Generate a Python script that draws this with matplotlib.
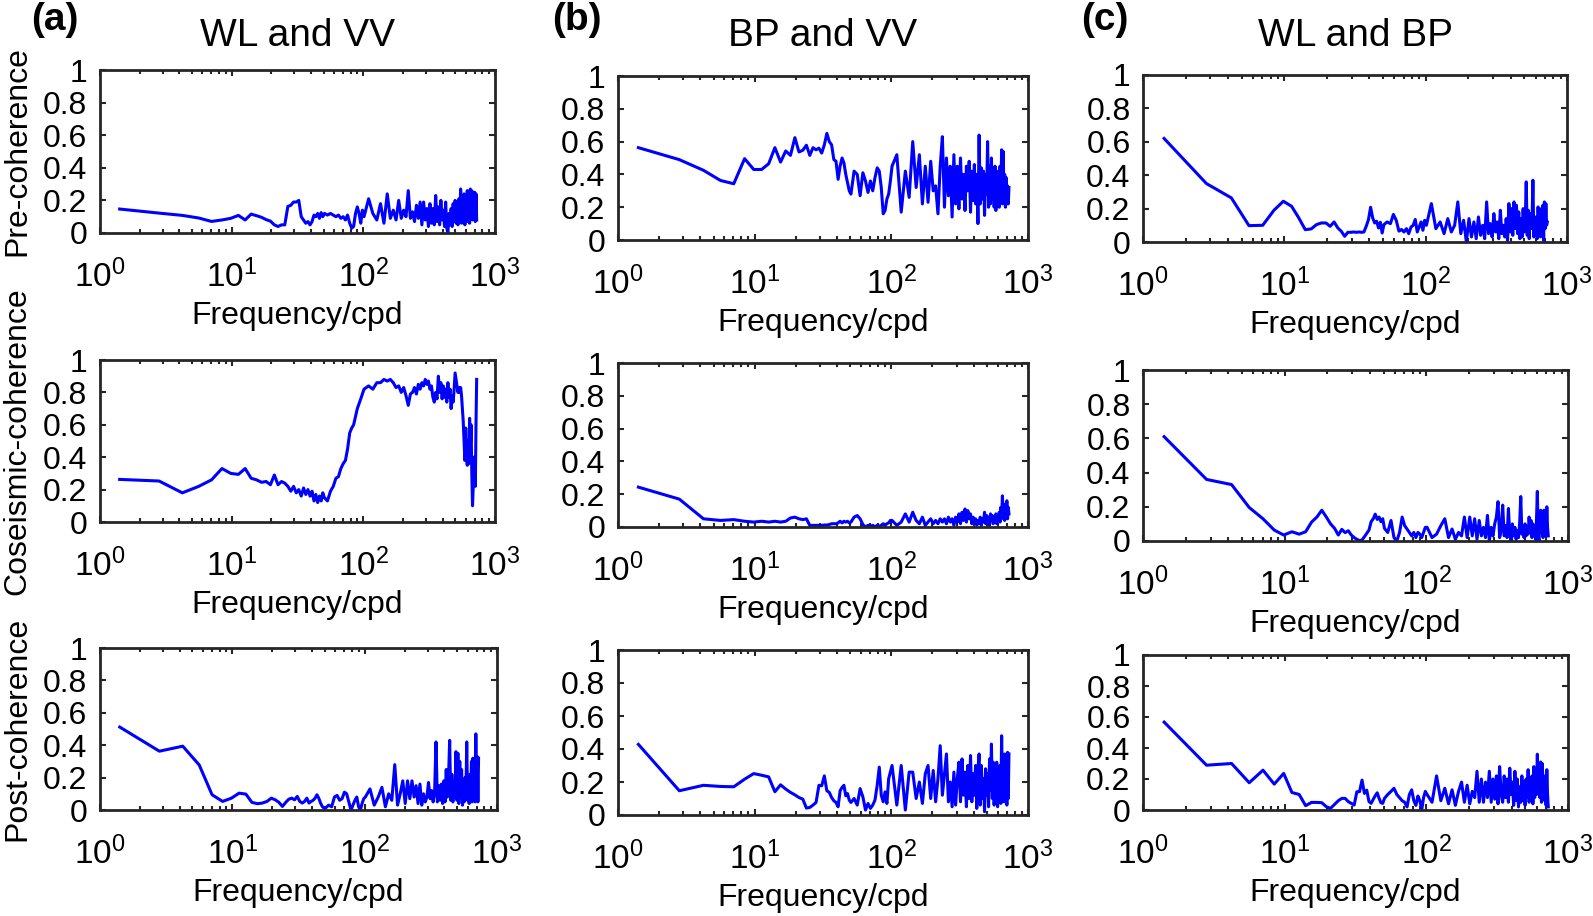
import matplotlib
matplotlib.use("Agg")
import matplotlib.pyplot as plt
from matplotlib.ticker import FixedLocator, FuncFormatter, LogLocator

plt.rcParams["font.family"] = ["Liberation Sans", "DejaVu Sans"]
plt.rcParams["mathtext.fontset"] = "custom"
plt.rcParams["mathtext.rm"] = "Liberation Sans"
plt.rcParams["mathtext.it"] = "Liberation Sans:italic"
plt.rcParams["mathtext.bf"] = "Liberation Sans:bold"

# frequency grid (cpd), shared by every panel
FREQ = [
    1.41, 2.81, 4.22, 5.62, 7.03, 8.44, 9.84, 11.25, 12.66, 14.06,
    15.47, 16.88, 18.28, 19.69, 21.09, 22.50, 23.91, 25.31, 26.72, 28.13,
    29.53, 30.94, 32.34, 33.75, 35.16, 36.56, 37.97, 39.38, 40.78, 42.19,
    43.59, 45.00, 46.41, 47.81, 49.22, 50.63,
    53.4, 56.3, 59.1, 61.9, 64.7, 67.5, 70.3, 73.1, 75.9, 78.8,
    81.6, 84.4, 87.2, 90.0, 92.8, 95.6, 98.4,
    101.2, 109.7, 118.1, 126.6, 135.0, 143.4, 151.9, 160.3, 168.8, 177.2,
    185.6, 194.1, 202.5, 210.9, 219.4, 227.8, 236.3, 244.7, 253.1, 261.6,
    270.0, 278.4, 286.9, 295.3, 303.8, 312.2, 320.6, 329.1, 337.5, 345.9,
    354.4, 362.8, 371.3, 379.7, 388.1, 396.6, 405.0, 413.4, 421.9, 430.3,
    438.8, 447.2, 455.6, 464.1, 472.5, 480.9, 489.4, 497.8, 506.3, 514.7,
    523.1, 531.6, 540.0, 548.4, 556.9, 565.3, 573.8, 582.2, 590.6, 599.1,
    607.5, 615.9, 624.4, 632.8, 641.3, 649.7, 658.1, 666.6, 675.0, 683.4,
    691.9, 700.3, 708.8, 717.2, 725.6,
]

# (a) WL and VV
pre_wl_vv = [
    0.147, 0.122, 0.108, 0.092, 0.071, 0.080, 0.090, 0.108, 0.080, 0.116,
    0.106, 0.096, 0.082, 0.073, 0.050, 0.040, 0.050, 0.050, 0.163, 0.170,
    0.190, 0.190, 0.200, 0.100, 0.080, 0.060, 0.070, 0.050, 0.070, 0.110,
    0.100, 0.120, 0.090, 0.125, 0.100, 0.120,
    0.110, 0.120, 0.110, 0.100, 0.110, 0.090, 0.100, 0.080, 0.110, 0.060,
    0.030, 0.040, 0.120, 0.160, 0.120, 0.060, 0.140,
    0.10, 0.21, 0.12, 0.08, 0.18, 0.06, 0.24, 0.09, 0.14, 0.08,
    0.20, 0.09, 0.14, 0.10, 0.26, 0.09, 0.13, 0.07, 0.17, 0.09,
    0.19, 0.05, 0.19, 0.08, 0.15, 0.04, 0.18, 0.06, 0.15, 0.05,
    0.23, 0.07, 0.16, 0.05, 0.20, 0.08, 0.14, 0.04, 0.19, 0.03,
    0.00, 0.12, 0.05, 0.15, 0.04, 0.18, 0.07, 0.20, 0.06, 0.18,
    0.05, 0.21, 0.08, 0.27, 0.06, 0.16, 0.08, 0.24, 0.05, 0.22,
    0.10, 0.26, 0.07, 0.20, 0.06, 0.27, 0.10, 0.26, 0.08, 0.24,
    0.12, 0.25, 0.07, 0.24, 0.08,
]
co_wl_vv = [
    0.263, 0.253, 0.180, 0.220, 0.260, 0.330, 0.300, 0.294, 0.330, 0.270,
    0.260, 0.245, 0.250, 0.230, 0.290, 0.230, 0.250, 0.240, 0.220, 0.190,
    0.220, 0.180, 0.200, 0.160, 0.210, 0.170, 0.200, 0.160, 0.190, 0.130,
    0.170, 0.120, 0.160, 0.130, 0.180, 0.150,
    0.13, 0.19, 0.22, 0.27, 0.28, 0.33, 0.36, 0.38, 0.45, 0.55,
    0.58, 0.60, 0.65, 0.70, 0.73, 0.76, 0.79,
    0.82, 0.84, 0.82, 0.86, 0.86, 0.88, 0.87, 0.88, 0.86, 0.83,
    0.84, 0.80, 0.83, 0.78, 0.72, 0.79, 0.80, 0.83, 0.79, 0.85,
    0.82, 0.86, 0.84, 0.88, 0.85, 0.87, 0.82, 0.84, 0.77, 0.74,
    0.80, 0.76, 0.90, 0.80, 0.86, 0.76, 0.84, 0.77, 0.82, 0.74,
    0.86, 0.77, 0.82, 0.70, 0.78, 0.74, 0.82, 0.92, 0.88, 0.84,
    0.80, 0.83, 0.80, 0.83, 0.78, 0.70, 0.62, 0.50, 0.38, 0.58,
    0.40, 0.35, 0.50, 0.36, 0.64, 0.45, 0.60, 0.30, 0.10, 0.22,
    0.40, 0.30, 0.22, 0.60, 0.88,
]
post_wl_vv = [
    0.512, 0.363, 0.394, 0.278, 0.094, 0.053, 0.073, 0.104, 0.098, 0.047,
    0.039, 0.043, 0.053, 0.073, 0.063, 0.047, 0.022, 0.047, 0.067, 0.073,
    0.063, 0.084, 0.053, 0.043, 0.053, 0.073, 0.043, 0.053, 0.060, 0.073,
    0.094, 0.073, 0.043, 0.022, 0.012, 0.012,
    0.03, 0.02, 0.08, 0.09, 0.06, 0.07, 0.11, 0.10, 0.05, 0.00,
    0.03, 0.06, 0.08, 0.02, 0.00, 0.04, 0.07,
    0.08, 0.13, 0.03, 0.08, 0.14, 0.02, 0.10, 0.06, 0.28, 0.03,
    0.10, 0.18, 0.04, 0.18, 0.07, 0.18, 0.08, 0.15, 0.04, 0.16,
    0.03, 0.10, 0.05, 0.08, 0.17, 0.07, 0.12, 0.05, 0.10, 0.42,
    0.05, 0.15, 0.06, 0.16, 0.04, 0.18, 0.05, 0.25, 0.08, 0.20,
    0.43, 0.06, 0.22, 0.05, 0.18, 0.08, 0.36, 0.06, 0.35, 0.04,
    0.30, 0.08, 0.25, 0.03, 0.12, 0.05, 0.20, 0.09, 0.42, 0.06,
    0.18, 0.04, 0.22, 0.07, 0.30, 0.05, 0.32, 0.08, 0.20, 0.05,
    0.47, 0.10, 0.33, 0.05, 0.32,
]

# (b) BP and VV
pre_bp_vv = [
    0.563, 0.490, 0.425, 0.363, 0.343, 0.496, 0.430, 0.430, 0.465, 0.563,
    0.475, 0.543, 0.516, 0.624, 0.537, 0.547, 0.578, 0.516, 0.563, 0.550,
    0.560, 0.530, 0.580, 0.650, 0.600, 0.580, 0.490, 0.480, 0.370, 0.450,
    0.500, 0.470, 0.400, 0.350, 0.300, 0.280,
    0.42, 0.40, 0.27, 0.41, 0.36, 0.29, 0.36, 0.30, 0.38, 0.44,
    0.42, 0.32, 0.16, 0.18, 0.25, 0.28, 0.36,
    0.45, 0.52, 0.17, 0.42, 0.26, 0.60, 0.32, 0.52, 0.22, 0.45,
    0.23, 0.48, 0.30, 0.33, 0.16, 0.45, 0.63, 0.20, 0.50, 0.27,
    0.45, 0.14, 0.52, 0.22, 0.45, 0.19, 0.50, 0.25, 0.40, 0.18,
    0.45, 0.30, 0.48, 0.17, 0.42, 0.24, 0.46, 0.22, 0.40, 0.10,
    0.64, 0.22, 0.44, 0.25, 0.42, 0.15, 0.40, 0.28, 0.60, 0.20,
    0.45, 0.22, 0.50, 0.25, 0.40, 0.20, 0.45, 0.18, 0.42, 0.25,
    0.38, 0.20, 0.45, 0.24, 0.55, 0.22, 0.54, 0.25, 0.40, 0.20,
    0.38, 0.22, 0.33, 0.22, 0.32,
]
co_bp_vv = [
    0.243, 0.170, 0.050, 0.040, 0.045, 0.035, 0.030, 0.035, 0.030, 0.035,
    0.030, 0.035, 0.055, 0.060, 0.050, 0.045, 0.050, 0.010, 0.010, 0.010,
    0.010, 0.010, 0.012, 0.012, 0.015, 0.020, 0.020, 0.020, 0.025, 0.035,
    0.025, 0.035, 0.030, 0.035, 0.025, 0.030,
    0.060, 0.070, 0.050, 0.015, 0.000, 0.010, 0.005, 0.010, 0.000, 0.010,
    0.005, 0.010, 0.020, 0.010, 0.020, 0.025, 0.040,
    0.04, 0.01, 0.03, 0.08, 0.03, 0.09, 0.04, 0.02, 0.06, 0.01,
    0.03, 0.05, 0.02, 0.04, 0.02, 0.05, 0.03, 0.05, 0.02, 0.06,
    0.03, 0.05, 0.01, 0.06, 0.03, 0.08, 0.02, 0.09, 0.04, 0.11,
    0.03, 0.10, 0.05, 0.08, 0.02, 0.06, 0.03, 0.05, 0.01, 0.04,
    0.02, 0.06, 0.01, 0.05, 0.03, 0.09, 0.02, 0.07, 0.03, 0.06,
    0.01, 0.08, 0.04, 0.07, 0.02, 0.05, 0.03, 0.08, 0.02, 0.06,
    0.04, 0.09, 0.03, 0.12, 0.05, 0.19, 0.06, 0.11, 0.04, 0.14,
    0.07, 0.16, 0.05, 0.12, 0.08,
]
post_bp_vv = [
    0.428, 0.147, 0.180, 0.173, 0.171, 0.217, 0.251, 0.241, 0.231, 0.141,
    0.183, 0.157, 0.137, 0.122, 0.106, 0.096, 0.042, 0.046, 0.060, 0.076,
    0.180, 0.177, 0.237, 0.147, 0.137, 0.106, 0.086, 0.076, 0.050, 0.147,
    0.167, 0.180, 0.116, 0.130, 0.090, 0.076,
    0.10, 0.06, 0.16, 0.11, 0.03, 0.07, 0.04, 0.06, 0.09, 0.18,
    0.29, 0.12, 0.08, 0.14, 0.07, 0.22, 0.26,
    0.30, 0.06, 0.30, 0.03, 0.26, 0.26, 0.10, 0.20, 0.07, 0.25,
    0.30, 0.10, 0.27, 0.08, 0.22, 0.42, 0.12, 0.25, 0.37, 0.08,
    0.20, 0.05, 0.26, 0.06, 0.22, 0.32, 0.08, 0.34, 0.12, 0.26,
    0.05, 0.30, 0.10, 0.36, 0.08, 0.25, 0.12, 0.30, 0.04, 0.28,
    0.37, 0.06, 0.30, 0.10, 0.22, 0.02, 0.28, 0.12, 0.25, 0.05,
    0.34, 0.15, 0.43, 0.10, 0.32, 0.06, 0.28, 0.12, 0.32, 0.05,
    0.25, 0.10, 0.30, 0.07, 0.48, 0.15, 0.36, 0.08, 0.37, 0.12,
    0.30, 0.06, 0.38, 0.10, 0.37,
]

# (c) WL and BP
pre_wl_bp = [
    0.620, 0.350, 0.264, 0.098, 0.100, 0.190, 0.244, 0.214, 0.144, 0.074,
    0.078, 0.104, 0.114, 0.114, 0.094, 0.120, 0.084, 0.064, 0.034, 0.058,
    0.058, 0.060, 0.058, 0.060, 0.058, 0.060, 0.094, 0.134, 0.208, 0.144,
    0.114, 0.124, 0.084, 0.118, 0.054, 0.104,
    0.120, 0.110, 0.165, 0.130, 0.065, 0.075, 0.060, 0.080, 0.050, 0.090,
    0.100, 0.135, 0.060, 0.090, 0.120, 0.070, 0.130,
    0.10, 0.23, 0.08, 0.12, 0.05, 0.14, 0.06, 0.10, 0.24, 0.05,
    0.13, 0.00, 0.14, 0.03, 0.12, 0.02, 0.15, 0.04, 0.10, 0.02,
    0.24, 0.05, 0.11, 0.03, 0.17, 0.06, 0.12, 0.02, 0.19, 0.05,
    0.10, 0.03, 0.14, 0.01, 0.23, 0.06, 0.20, 0.04, 0.24, 0.08,
    0.22, 0.05, 0.18, 0.02, 0.14, 0.03, 0.20, 0.06, 0.12, 0.36,
    0.04, 0.19, 0.02, 0.17, 0.08, 0.12, 0.37, 0.03, 0.15, 0.05,
    0.15, 0.02, 0.21, 0.06, 0.18, 0.03, 0.20, 0.05, 0.22, 0.01,
    0.24, 0.08, 0.23, 0.10, 0.12,
]
co_wl_bp = [
    0.610, 0.360, 0.330, 0.196, 0.130, 0.064, 0.035, 0.054, 0.040, 0.054,
    0.110, 0.140, 0.180, 0.140, 0.100, 0.074, 0.035, 0.068, 0.049, 0.060,
    0.035, 0.020, 0.010, 0.002, 0.006, 0.025, 0.045, 0.064, 0.113, 0.130,
    0.157, 0.126, 0.140, 0.113, 0.130, 0.074,
    0.05, 0.12, 0.02, 0.00, 0.05, 0.14, 0.09, 0.07, 0.05, 0.03,
    0.05, 0.02, 0.05, 0.04, 0.02, 0.05, 0.08,
    0.08, 0.02, 0.04, 0.09, 0.13, 0.02, 0.07, 0.01, 0.05, 0.03,
    0.14, 0.02, 0.14, 0.03, 0.13, 0.01, 0.12, 0.03, 0.08, 0.02,
    0.15, 0.00, 0.08, 0.03, 0.10, 0.14, 0.23, 0.02, 0.06, 0.21,
    0.03, 0.09, 0.02, 0.19, 0.04, 0.00, 0.10, 0.03, 0.08, 0.01,
    0.06, 0.02, 0.10, 0.26, 0.04, 0.05, 0.02, 0.10, 0.03, 0.08,
    0.04, 0.14, 0.06, 0.12, 0.02, 0.10, 0.04, 0.08, 0.01, 0.12,
    0.29, 0.03, 0.00, 0.10, 0.18, 0.05, 0.17, 0.02, 0.18, 0.06,
    0.15, 0.03, 0.20, 0.08, 0.03,
]
post_wl_bp = [
    0.567, 0.289, 0.300, 0.176, 0.257, 0.167, 0.236, 0.113, 0.100, 0.028,
    0.049, 0.049, 0.047, 0.021, 0.011, 0.036, 0.060, 0.075, 0.075, 0.054,
    0.043, 0.032, 0.118, 0.118, 0.193, 0.107, 0.128, 0.054, 0.043, 0.069,
    0.092, 0.111, 0.075, 0.047, 0.043, 0.075,
    0.10, 0.12, 0.14, 0.10, 0.08, 0.06, 0.05, 0.02, 0.10, 0.13,
    0.06, 0.03, 0.09, 0.06, 0.00, 0.08, 0.12,
    0.10, 0.05, 0.22, 0.06, 0.14, 0.04, 0.13, 0.03, 0.12, 0.18,
    0.05, 0.16, 0.04, 0.12, 0.08, 0.25, 0.05, 0.20, 0.05, 0.18,
    0.08, 0.25, 0.05, 0.20, 0.07, 0.22, 0.04, 0.28, 0.10, 0.05,
    0.22, 0.08, 0.20, 0.05, 0.27, 0.10, 0.18, 0.03, 0.25, 0.06,
    0.20, 0.02, 0.15, 0.05, 0.22, 0.06, 0.18, 0.03, 0.20, 0.08,
    0.26, 0.05, 0.18, 0.10, 0.22, 0.04, 0.28, 0.08, 0.25, 0.10,
    0.36, 0.12, 0.25, 0.08, 0.31, 0.05, 0.30, 0.15, 0.22, 0.06,
    0.20, 0.03, 0.26, 0.10, 0.02,
]

COL_TITLES = ["WL and VV", "BP and VV", "WL and BP"]
COL_TAGS = ["(a)", "(b)", "(c)"]
ROW_LABELS = ["Pre-coherence", "Coseismic-coherence", "Post-coherence"]
PANELS = [
    [pre_wl_vv, pre_bp_vv, pre_wl_bp],
    [co_wl_vv, co_bp_vv, co_wl_bp],
    [post_wl_vv, post_bp_vv, post_wl_bp],
]

W, H = 1593, 916
# axes boxes in pixels: left, top, right, bottom
BOXES = [
    [(100, 70, 495, 233), (618, 76, 1028, 240), (1143, 75, 1567, 242)],
    [(100, 360, 495, 522), (618, 363, 1028, 527), (1143, 370, 1568, 541)],
    [(100, 648, 497, 810), (618, 650, 1028, 815), (1143, 655, 1568, 810)],
]
FS = 23
EDGE = "#262626"

fig = plt.figure(figsize=(W / 100, H / 100), dpi=100)

for r in range(3):
    for c in range(3):
        l, t, rr, b = BOXES[r][c]
        ax = fig.add_axes([l / W, 1 - b / H, (rr - l) / W, (b - t) / H])
        vals = PANELS[r][c]
        assert len(vals) == len(FREQ)
        ax.plot(FREQ, vals, color="#0000ff", linewidth=2.2)
        ax.set_xscale("log")
        ax.set_xlim(1, 1000)
        ax.set_ylim(0, 1)
        ax.xaxis.set_major_locator(LogLocator(base=10, numticks=5))
        ax.xaxis.set_minor_locator(LogLocator(base=10, subs=range(2, 10), numticks=20))
        ax.yaxis.set_major_locator(FixedLocator([0, 0.2, 0.4, 0.6, 0.8, 1.0]))
        ax.yaxis.set_major_formatter(FuncFormatter(lambda v, p: f"{v:g}"))
        ax.tick_params(which="both", direction="in", top=True, right=True,
                       color=EDGE, width=1.5)
        ax.tick_params(which="major", length=4.5)
        ax.tick_params(which="minor", length=3)
        ax.tick_params(axis="x", which="major", pad=19, labelsize=24)
        ax.tick_params(axis="y", which="major", pad=9, labelsize=FS)
        for sp in ax.spines.values():
            sp.set_linewidth(2.0)
            sp.set_color(EDGE)
        ax.set_xlabel("Frequency/cpd", fontsize=FS, labelpad=5)
        if r == 0:
            fig.text((l + rr) / 2 / W, 1 - 36 / H, COL_TITLES[c], fontsize=28,
                     ha="center", va="center")
        if c == 0:
            fig.text(17 / W, 1 - (t + b) / 2 / H, ROW_LABELS[r], fontsize=FS,
                     rotation=90, ha="center", va="center")

for c, x in enumerate([55, 577, 1105]):
    fig.text(x / W, 1 - 20 / H, COL_TAGS[c], fontsize=28, fontweight="bold",
             ha="center", va="center")

fig.savefig("out.png", dpi=100)
